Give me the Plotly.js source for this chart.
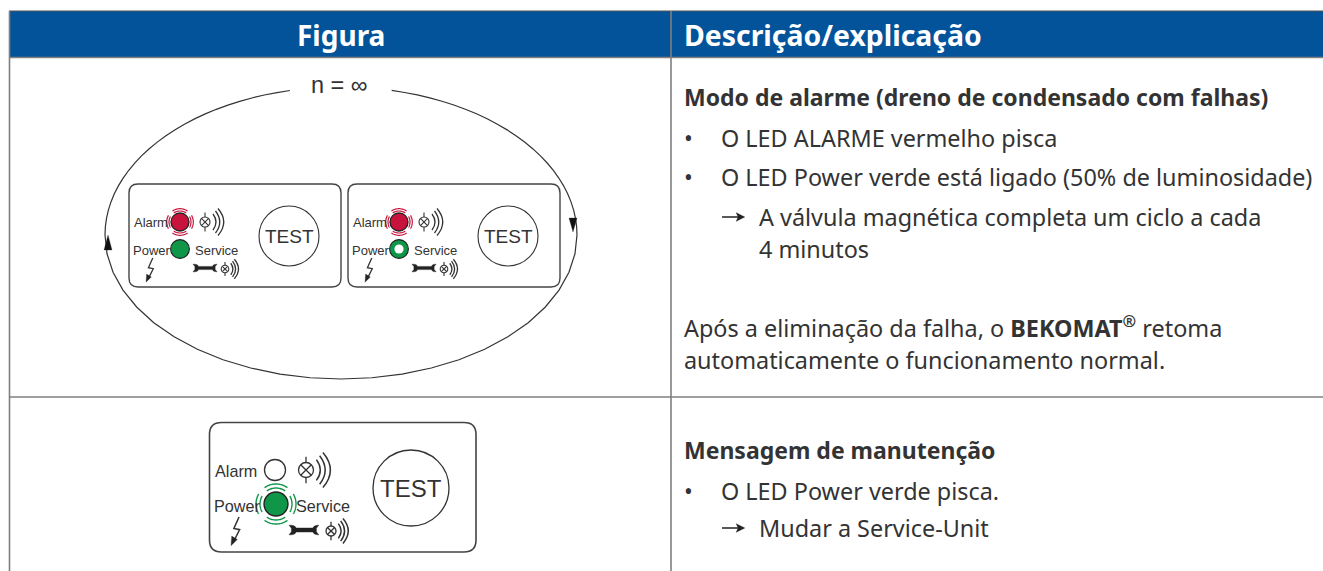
<!DOCTYPE html>
<html><head><meta charset="utf-8">
<script src="https://cdn.plot.ly/plotly-3.0.1.min.js"></script>
<style>html,body{margin:0;padding:0;background:#fff}#c{width:1323px;height:571px}</style></head>
<body><div id="c"></div>
<script>
const headers = ["Figura", "Descrição/explicação"];
const loopLabel = "n = ∞";
const panelLabels = ["Alarm", "Power", "Service", "TEST"];
const descBold = ["Modo de alarme (dreno de condensado com falhas)", "Mensagem de manutenção"];
const descBullets = ["O LED ALARME vermelho pisca", "O LED Power verde está ligado (50% de luminosidade)", "O LED Power verde pisca."];
const descArrows = ["A válvula magnética completa um ciclo a cada", "4 minutos", "Mudar a Service-Unit"];
const descPlain = ["Após a eliminação da falha, o <b>BEKOMAT<sup>®</sup></b> retoma", "automaticamente o funcionamento normal."];

const BLUE="#03539b", GRID="#7f7f7f", INK="#333333", RED="#c8143c", GREEN="#0f9648";
const BODY="Noto Sans", DIA="Liberation Sans";
const shapes=[], annotations=[];
const line=(c,w)=>({color:c,width:w});
function path(d,c,w,fill){shapes.push({type:"path",path:d,line:w?line(c,w):{width:0},fillcolor:fill||"rgba(0,0,0,0)",xref:"x",yref:"y"});}
function rect(x0,y0,x1,y1,fill){shapes.push({type:"rect",x0,y0,x1,y1,fillcolor:fill,line:{width:0}});}
function circ(cx,cy,r,fill,c,w){shapes.push({type:"circle",x0:cx-r,x1:cx+r,y0:cy-r,y1:cy+r,fillcolor:fill||"rgba(0,0,0,0)",line:w?line(c,w):{width:0}});}
function seg(x0,y0,x1,y1,c,w){shapes.push({type:"line",x0,y0,x1,y1,line:line(c,w)});}
function text(t,x,y,size,opt){opt=opt||{};annotations.push({text:t,x,y,xref:"x",yref:"y",showarrow:false,xanchor:opt.anchor||"left",yanchor:"middle",align:opt.anchor||"left",
  font:{family:opt.family||BODY,size,color:opt.color||INK,weight:opt.weight||400},borderpad:0,captureevents:false});}
function arc(cx,cy,rx,ry,a0,a1){let d="";const n=24;for(let i=0;i<=n;i++){const a=(a0+(a1-a0)*i/n)*Math.PI/180;d+=(i?"L":"M")+(cx+rx*Math.cos(a)).toFixed(2)+" "+(cy+ry*Math.sin(a)).toFixed(2);}return d;}
function round(x0,y0,x1,y1,r){return `M${x0+r} ${y0}L${x1-r} ${y0}Q${x1} ${y0} ${x1} ${y0+r}L${x1} ${y1-r}Q${x1} ${y1} ${x1-r} ${y1}L${x0+r} ${y1}Q${x0} ${y1} ${x0} ${y1-r}L${x0} ${y0+r}Q${x0} ${y0} ${x0+r} ${y0}Z`;}
function lamp(cx,cy,r,s,lw){
  circ(cx,cy,r,"#fff",INK,lw);
  const k=r*0.707;seg(cx-k,cy-k,cx+k,cy+k,INK,lw);seg(cx-k,cy+k,cx+k,cy-k,INK,lw);
  seg(cx,cy-r,cx,cy-r-4.5*s,INK,lw);seg(cx,cy+r,cx,cy+r+4.5*s,INK,lw);
  [[8,8,14],[10.5,11,19],[13,13.5,24.5]].forEach(q=>{
    path(`M${cx+q[0]*s} ${cy-q[1]*s}Q${cx+q[2]*s} ${cy} ${cx+q[0]*s} ${cy+q[1]*s}`,INK,lw+0.2);
  });
}
function rings(cx,cy,radii,c,w){
  radii.forEach(r=>{[[-125,-55],[-30,30],[55,125],[150,210]].forEach(g=>path(arc(cx,cy,r,r,g[0],g[1]),c,w));});
}
function wrench(x0,x1,y,s){
  const h=4*s,t=1.7*s,n=1.5*s;
  const d=`M${x0} ${y-h}L${x0+2*s} ${y-h}Q${x0+5*s} ${y-h} ${x0+6*s} ${y-t}L${x1-6*s} ${y-t}Q${x1-5*s} ${y-h} ${x1-2*s} ${y-h}L${x1-1*s} ${y-h}L${x1-3*s} ${y-n}L${x1-3*s} ${y+n}L${x1-1*s} ${y+h}L${x1-2*s} ${y+h}Q${x1-5*s} ${y+h} ${x1-6*s} ${y+t}L${x0+6*s} ${y+t}Q${x0+5*s} ${y+h} ${x0+2*s} ${y+h}L${x0} ${y+h}L${x0+2*s} ${y+n}L${x0+2*s} ${y-n}Z`;
  path(d,"#222",0.4,"#222");
}
function bolt(x,y,s,lw){
  path(`M${x+7*s} ${y}L${x+2.5*s} ${y+10*s}L${x+7.5*s} ${y+11*s}L${x+3*s} ${y+20*s}`,INK,lw+0.2);
  path(`M${x} ${y+25*s}L${x+0.6*s} ${y+16.5*s}L${x+5.5*s} ${y+19.5*s}Z`,INK,0.3,"#222");
}
function panel(o){
  path(round(o.x0,o.y0,o.x1,o.y1,o.rad),"#444",o.lw+0.3,"#fff");
  const fs=o.fs;
  text(panelLabels[0],o.alarmX,o.ledY1+0.5,fs,{family:DIA});
  text(panelLabels[1],o.alarmX-1,o.ledY2+1,fs,{family:DIA});
  text(panelLabels[2],o.serviceX,o.ledY2+1,fs,{family:DIA});
  text(panelLabels[3],o.testX,o.testY,o.testFs,{family:DIA,anchor:"center"});
  circ(o.testX,o.testY,o.testR,"rgba(0,0,0,0)",INK,o.lw);
  lamp(o.lamp1[0],o.lamp1[1],o.lamp1[2],o.lamp1[3],o.lw);
  lamp(o.lamp2[0],o.lamp2[1],o.lamp2[2],o.lamp2[3],o.lw);
  wrench(o.wr[0],o.wr[1],o.wr[2],o.wr[3]);
  bolt(o.bolt[0],o.bolt[1],o.bolt[2],o.lw);
}

// table frame
rect(9,11,1323,57,BLUE);
seg(9,11,1323,11,"#555",1);
seg(9.5,11,9.5,571,GRID,1.6);
seg(671,11,671,571,GRID,1.6);
seg(9,57.5,1323,57.5,GRID,1.4);
seg(9,397,1323,397,GRID,1.6);
text(headers[0],341,35,28,{color:"#fff",weight:700,anchor:"center"});
text(headers[1],683,35,28.4,{color:"#fff",weight:700});

// loop
path(arc(341,235,236,148,-102.5,-180),INK,1.2);
path(arc(341,235,236,148,-77.6,0),INK,1.2);
path(arc(341,235,236,144,0,180),INK,1.2);
text(loopLabel,339,85,23.5,{family:DIA,anchor:"center"});
path("M108 235L104 250L112 250Z",INK,0.3,"#111");
path("M573 232L569 218L577 218Z",INK,0.3,"#111");

// small panels
[0,219].forEach((dx,i)=>{
  panel({x0:129+dx,y0:184,x1:341+dx,y1:287,rad:9,lw:1.1,fs:13,alarmX:132.5+dx,serviceX:194+dx,ledY1:222,ledY2:249,
    testX:289+dx,testY:236,testR:30,testFs:19,
    lamp1:[205+dx,222,5,1,1.1],lamp2:[225+dx,269,3.8,0.72,1],wr:[193+dx,218+dx,268,0.95],bolt:[146+dx,258,0.97]});
  rings(180+dx,222,[11,13.3],RED,1.2);
  circ(180+dx,222,9,RED,"#222",1.3);
  circ(180+dx,249,9.4,GREEN,"#222",1.1);
  if(i===1) circ(180+dx,249,4.6,"#fff");
});
// large panel
panel({x0:209.5,y0:422.5,x1:476,y1:552,rad:12,lw:1.3,fs:16.2,alarmX:214,serviceX:295,ledY1:470,ledY2:505,
  testX:411,testY:488,testR:38,testFs:24,
  lamp1:[306,470,7.5,1.3,1.3],lamp2:[331,531,5,0.92,1.2],wr:[289,320,530,1.2],bolt:[231,517,1.15]});
circ(275,470,10.5,"#fff",INK,1.3);
rings(276,504,[16,20],GREEN,1.4);
circ(276,504,12,GREEN,"#222",1.4);

// description text
const S=23.4, B=23;
text(descBold[0],683,97,B,{weight:700});
text("•",683,138,S); text(descBullets[0],720,138,S);
text("•",683,177,S); text(descBullets[1],720,177,S);
function arrow(x,y){seg(x,y,x+17,y,"#222",1.5);path(`M${x+23} ${y}L${x+14} ${y-4.5}L${x+16} ${y}L${x+14} ${y+4.5}Z`,INK,0.2,"#222");}
arrow(722,217); text(descArrows[0],758,217,S);
text(descArrows[1],758,249,S);
text(descPlain[0],683,327,S);
text(descPlain[1],683,360,S);
text(descBold[1],683,450,B,{weight:700});
text("•",683,491,S); text(descBullets[2],720,491,S);
arrow(722,528); text(descArrows[2],758,528,S);

const layout={width:1323,height:571,margin:{l:0,r:0,t:0,b:0},paper_bgcolor:"#fff",plot_bgcolor:"#fff",showlegend:false,
  xaxis:{range:[0,1323],visible:false,fixedrange:true},yaxis:{range:[571,0],visible:false,fixedrange:true},shapes,annotations};
Plotly.newPlot("c",[{x:[0],y:[0],mode:"markers",marker:{opacity:0},hoverinfo:"skip"}],layout,{staticPlot:true,displayModeBar:false});
</script></body></html>
